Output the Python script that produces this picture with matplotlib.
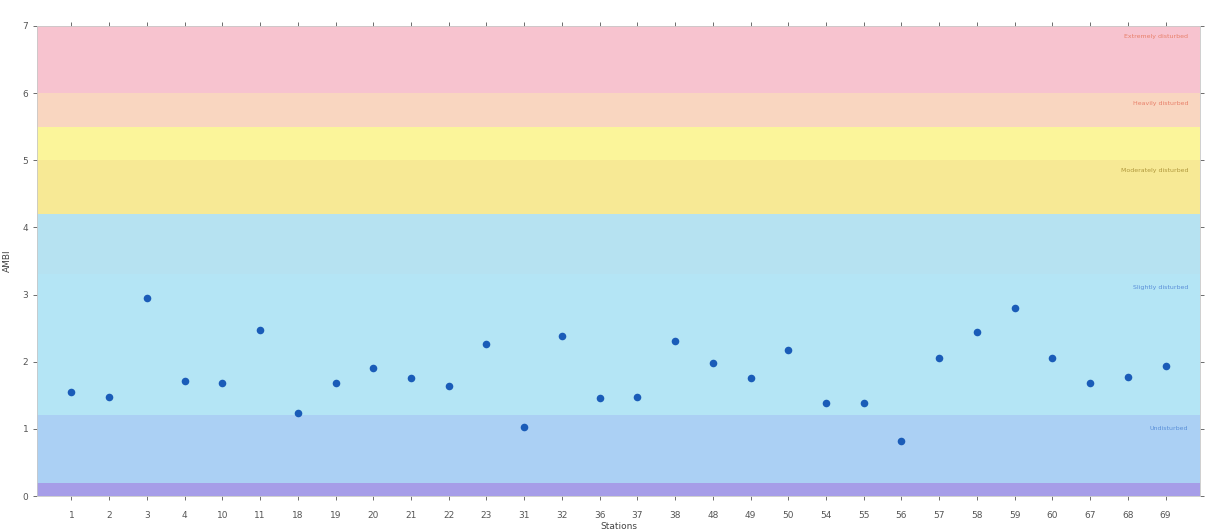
import matplotlib
matplotlib.use("Agg")
import matplotlib.pyplot as plt

stations = ["1", "2", "3", "4", "10", "11", "18", "19", "20", "21", "22", "23",
            "31", "32", "36", "37", "38", "48", "49", "50", "54", "55", "56",
            "57", "58", "59", "60", "67", "68", "69"]
ambi = [1.55, 1.47, 2.95, 1.72, 1.68, 2.48, 1.24, 1.68, 1.90, 1.76, 1.64, 2.27,
        1.03, 2.38, 1.46, 1.48, 2.31, 1.98, 1.76, 2.17, 1.38, 1.38, 0.82,
        2.06, 2.44, 2.80, 2.06, 1.68, 1.77, 1.93]

band_edges = [0.0, 0.2, 1.2, 3.3, 4.2, 5.0, 5.5, 6.0, 7.0]
band_colors = ["#a69de8", "#abd0f4", "#b4e5f5", "#b6e2f1", "#f7e995",
               "#fbf59a", "#f9d6c0", "#f7c3cf"]

label_texts = ["Extremely disturbed", "Heavily disturbed", "Moderately disturbed",
               "Slightly disturbed", "Undisturbed"]
label_levels = [6.85, 5.85, 4.85, 3.1, 1.0]
label_colors = ["#e8806a", "#e8806a", "#b0983c", "#5a8fd8", "#5a8fd8"]

fig = plt.figure(figsize=(12.08, 5.30), dpi=100)
ax = fig.add_axes([0.031, 0.064, 0.962, 0.887])

x = list(range(len(stations)))
xmin, xmax = -0.9, len(stations) - 0.1

for lo, hi, c in zip(band_edges[:-1], band_edges[1:], band_colors):
    ax.axhspan(lo, hi, color=c, lw=0, zorder=0)

for t, lv, c in zip(label_texts, label_levels, label_colors):
    ax.text(xmax - 0.3, lv, t, ha="right", va="center", fontsize=4.5, color=c, zorder=2)

ax.scatter(x, ambi, s=30, color="#1a5cb8", zorder=3, linewidths=0)

ax.set_xlim(xmin, xmax)
ax.set_ylim(0, 7)
ax.set_xticks(x)
ax.set_xticklabels(stations)
ax.set_yticks(range(8))
ax.tick_params(axis="both", labelsize=6.5, colors="#555555", length=3, width=0.6,
               top=True, right=True, labeltop=False, labelright=False)
ax.tick_params(axis="x", pad=8)
for s in ax.spines.values():
    s.set_color("#c8c8c8")
    s.set_linewidth(0.6)

ax.set_xlabel("Stations", fontsize=6.5, color="#444444", labelpad=1)
ax.set_ylabel("AMBI", fontsize=6.5, color="#444444", labelpad=8)

fig.savefig("out.png", dpi=100)
